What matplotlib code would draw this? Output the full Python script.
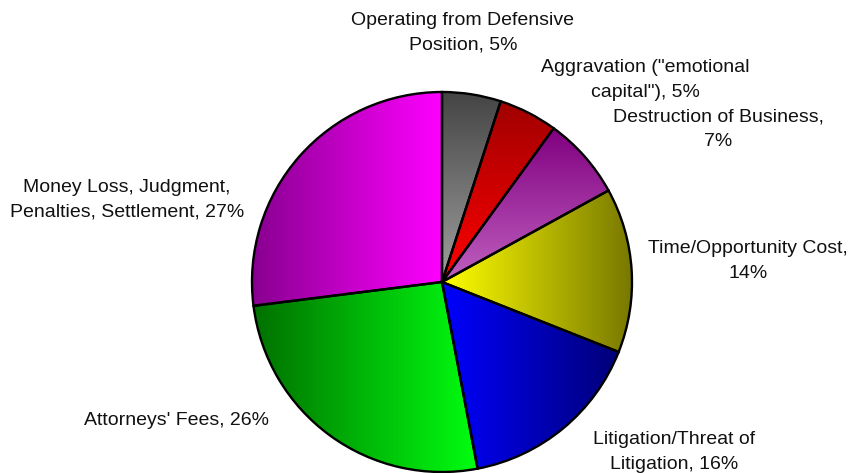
import numpy as np
import matplotlib.pyplot as plt
from matplotlib.patches import Wedge
from matplotlib.colors import LinearSegmentedColormap

plt.rcParams['font.family'] = ['Liberation Sans', 'DejaVu Sans']

# 各项成本占比（从顶部开始顺时针）
labels = ['Operating from Defensive\nPosition, 5%',
          'Aggravation ("emotional\ncapital"), 5%',
          'Destruction of Business,\n7%',
          'Time/Opportunity Cost,\n14%',
          'Litigation/Threat of\nLitigation, 16%',
          "Attorneys' Fees, 26%",
          'Money Loss, Judgment,\nPenalties, Settlement, 27%']
values = [5, 5, 7, 14, 16, 26, 27]

# 渐变色：(起点颜色, 终点颜色, 方向)
grads = [('#444444', '#a0a0a0', 'v'),
         ('#a00000', '#ff0000', 'v'),
         ('#800080', '#c060c0', 'v'),
         ('#ffff00', '#787800', 'h'),
         ('#0000ff', '#000078', 'h'),
         ('#007000', '#00ff10', 'h'),
         ('#880090', '#ff00ff', 'h')]

# 标签位置（像素）
label_pos = [(463, 33), (645, 80), (718, 129), (748, 261),
             (674, 452), (177, 420), (127, 200)]

W, H = 854, 473
cx, cy, R = 442, H - 282, 190

fig = plt.figure(figsize=(W / 100, H / 100), dpi=100)
ax = fig.add_axes([0, 0, 1, 1])
ax.set_xlim(0, W)
ax.set_ylim(0, H)
ax.set_aspect('equal')
ax.axis('off')

total = float(sum(values))
start = 90.0
for v, (c0, c1, d) in zip(values, grads):
    t2 = start
    t1 = start - v / total * 360.0
    start = t1
    wedge = Wedge((cx, cy), R, t1, t2, facecolor='none',
                  edgecolor='black', linewidth=1.7, zorder=3)
    ax.add_patch(wedge)
    ext = wedge.get_path().get_extents()
    cmap = LinearSegmentedColormap.from_list('g', [c0, c1])
    if d == 'h':
        arr = np.linspace(0, 1, 256).reshape(1, -1)
    else:
        arr = np.linspace(0, 1, 256).reshape(-1, 1)
    im = ax.imshow(arr, cmap=cmap, extent=(ext.x0, ext.x1, ext.y0, ext.y1),
                   origin='upper', aspect='auto', interpolation='bilinear',
                   zorder=2)
    im.set_clip_path(wedge)

for txt, (x, y) in zip(labels, label_pos):
    ax.text(x, H - y, txt, ha='center', va='center', fontsize=14,
            linespacing=1.55, color='#111111')

fig.savefig('out.png', dpi=100)
